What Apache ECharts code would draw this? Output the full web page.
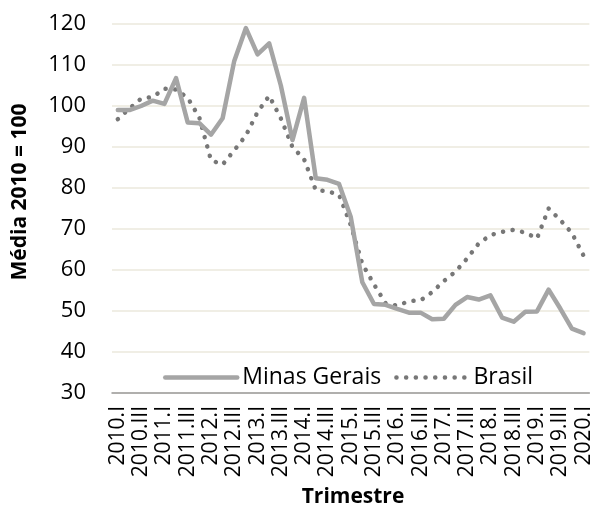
<!DOCTYPE html>
<html>
<head>
<meta charset="utf-8">
<script src="https://cdn.jsdelivr.net/npm/echarts@6/dist/echarts.min.js"></script>
<style>html,body{margin:0;padding:0;background:#fff}#c{width:594px;height:526px}</style>
</head>
<body>
<div id="c"></div>
<script>
const quarters = [
  '2010.I','2010.II','2010.III','2010.IV',
  '2011.I','2011.II','2011.III','2011.IV',
  '2012.I','2012.II','2012.III','2012.IV',
  '2013.I','2013.II','2013.III','2013.IV',
  '2014.I','2014.II','2014.III','2014.IV',
  '2015.I','2015.II','2015.III','2015.IV',
  '2016.I','2016.II','2016.III','2016.IV',
  '2017.I','2017.II','2017.III','2017.IV',
  '2018.I','2018.II','2018.III','2018.IV',
  '2019.I','2019.II','2019.III','2019.IV',
  '2020.I'
];
const minasGerais = [
  99, 99, 100, 101.3, 100.5, 106.8, 96, 95.8, 93, 97,
  111, 119, 112.6, 115.3, 105, 91.7, 102, 82.4, 82, 81,
  73, 57, 51.7, 51.5, 50.5, 49.6, 49.6, 48, 48.1, 51.5,
  53.4, 52.8, 53.8, 48.4, 47.4, 49.8, 49.9, 55.2, 50.6, 45.7,
  44.6
];
const brasil = [
  96.8, 99.4, 101.8, 102.2, 104.2, 104, 102, 97.2, 86.8, 85.7,
  89.2, 92.8, 98.5, 102.5, 97, 90, 87, 79.5, 79.2, 78.4,
  71, 61.5, 56.5, 51.9, 51.3, 52.4, 52.6, 54.6, 57.3, 59.6,
  62.8, 66.5, 68.5, 69.3, 69.8, 69.1, 67.7, 75, 72.2, 69,
  63.5
];
const yMin = 30, yMax = 120, yStep = 10;
const seriesNames = ['Minas Gerais', 'Brasil'];
const yTitle = 'Média 2010 = 100';
const xTitle = 'Trimestre';

const FONT = '"Open Sans", "Liberation Sans", sans-serif';
const chart = echarts.init(document.getElementById('c'), null, {renderer: 'canvas'});
chart.setOption({
  animation: false,
  backgroundColor: '#ffffff',
  textStyle: {fontFamily: FONT},
  grid: {left: 112, right: 0, top: 24, bottom: 133, containLabel: false},
  legend: {
    data: seriesNames,
    left: 158, top: 361,
    itemWidth: 72, itemHeight: 14, itemGap: 13,
    itemStyle: {opacity: 0},
    lineStyle: {width: 4.5},
    textStyle: {fontFamily: FONT, fontSize: 23, color: '#000'}
  },
  xAxis: {
    type: 'category',
    data: quarters,
    boundaryGap: true,
    axisLine: {show: true, lineStyle: {color: '#9a9a9a', width: 1.5}},
    axisTick: {show: false},
    axisLabel: {
      interval: 1, rotate: 90, margin: 13,
      fontFamily: FONT, fontSize: 21, color: '#000'
    },
    splitLine: {show: false}
  },
  yAxis: {
    type: 'value',
    min: yMin, max: yMax, interval: yStep,
    axisLine: {show: false},
    axisTick: {show: false},
    axisLabel: {margin: 26, fontFamily: FONT, fontSize: 22, color: '#000'},
    splitLine: {lineStyle: {color: '#ebe8dc', width: 1.5}}
  },
  graphic: [
    {type: 'text', rotation: Math.PI / 2, x: 20, y: 192,
     style: {text: yTitle, font: 'bold 21px ' + FONT, fill: '#000', align: 'center', verticalAlign: 'middle'}},
    {type: 'text', x: 353, y: 497,
     style: {text: xTitle, font: 'bold 21px ' + FONT, fill: '#000', align: 'center', verticalAlign: 'middle'}}
  ],
  series: [
    {
      name: seriesNames[0], type: 'line', data: minasGerais,
      showSymbol: false, symbol: 'none', smooth: false,
      lineStyle: {color: '#a5a5a5', width: 4.5, cap: 'round', join: 'round'},
      itemStyle: {color: '#a5a5a5'}, z: 3
    },
    {
      name: seriesNames[1], type: 'line', data: brasil,
      showSymbol: false, symbol: 'none', smooth: false,
      lineStyle: {color: '#777777', width: 4.5, type: [0.1, 9.6], cap: 'round', join: 'round'},
      itemStyle: {color: '#777777'}, z: 2
    }
  ]
});
</script>
</body>
</html>
